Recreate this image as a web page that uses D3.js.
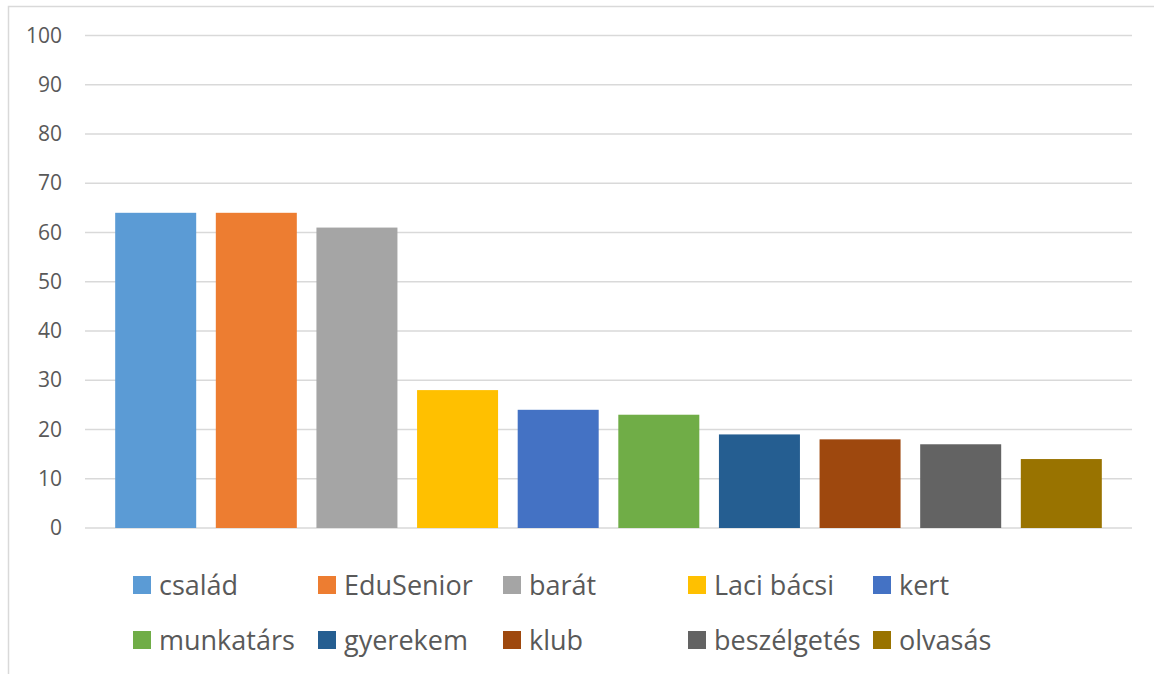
<!DOCTYPE html>
<html>
<head>
<meta charset="utf-8">
<script src="https://cdn.jsdelivr.net/npm/d3@7"></script>
<style>
  body { margin: 0; background: #fff; }
  text { font-family: 'Open Sans', sans-serif; fill: #595959; }
</style>
</head>
<body>
<svg id="chart" width="1154" height="674"></svg>
<script>
const categories = ['család', 'EduSenior', 'barát', 'Laci bácsi', 'kert', 'munkatárs', 'gyerekem', 'klub', 'beszélgetés', 'olvasás']
const values = [64, 64, 61, 28, 24, 23, 19, 18, 17, 14]
const colors = ['#5b9bd5', '#ed7d31', '#a5a5a5', '#ffc000', '#4472c4', '#70ad47', '#255e91', '#9e480e', '#636363', '#997300']
const yTicks = [0, 10, 20, 30, 40, 50, 60, 70, 80, 90, 100]

const svg = d3.select('#chart')

// chart frame, cut off by the window on the right and bottom
svg.append('rect')
  .attr('x', 8.5).attr('y', 6.5)
  .attr('width', 1200).attr('height', 700)
  .style('fill', 'none').style('stroke', '#d9d9d9').style('stroke-width', 1.5)

const x = d3.scaleBand().domain(categories).range([85, 1132]).paddingInner(0.195).paddingOuter(0.3)
const y = d3.scaleLinear().domain([0, 100]).range([528, 35.5])

const gGrid = svg.append('g')
gGrid.selectAll('line').data(yTicks).enter().append('line')
  .attr('x1', 85).attr('x2', 1132)
  .attr('y1', y).attr('y2', y)
  .style('stroke', '#d9d9d9').style('stroke-width', 1.3)

const yAxis = svg.append('g')
  .attr('transform', 'translate(70,0)')
  .call(d3.axisLeft(y).tickValues(yTicks).tickSize(0).tickPadding(8))
yAxis.select('.domain').remove()
yAxis.selectAll('text')
  .style('font-size', '21px')
  .style('font-family', "'Open Sans', sans-serif")
  .style('fill', '#595959')

svg.append('g').selectAll('rect').data(values).enter().append('rect')
  .attr('x', (_, i) => x(categories[i]))
  .attr('y', (d) => y(d))
  .attr('width', x.bandwidth())
  .attr('height', (d) => y(0) - y(d))
  .style('fill', (_, i) => colors[i])

// legend: 5 columns, 2 rows
const legend = svg.append('g')
const item = legend.selectAll('g').data(categories).enter().append('g')
  .attr('transform', (_, i) => `translate(${133 + (i % 5) * 185},${576 + Math.floor(i / 5) * 55})`)

item.append('rect')
  .attr('width', 18).attr('height', 18)
  .style('fill', (_, i) => colors[i])

item.append('text')
  .attr('x', 26).attr('y', 9)
  .attr('dy', '0.36em')
  .style('font-size', '27px')
  .text((d) => d)
</script>
</body>
</html>
